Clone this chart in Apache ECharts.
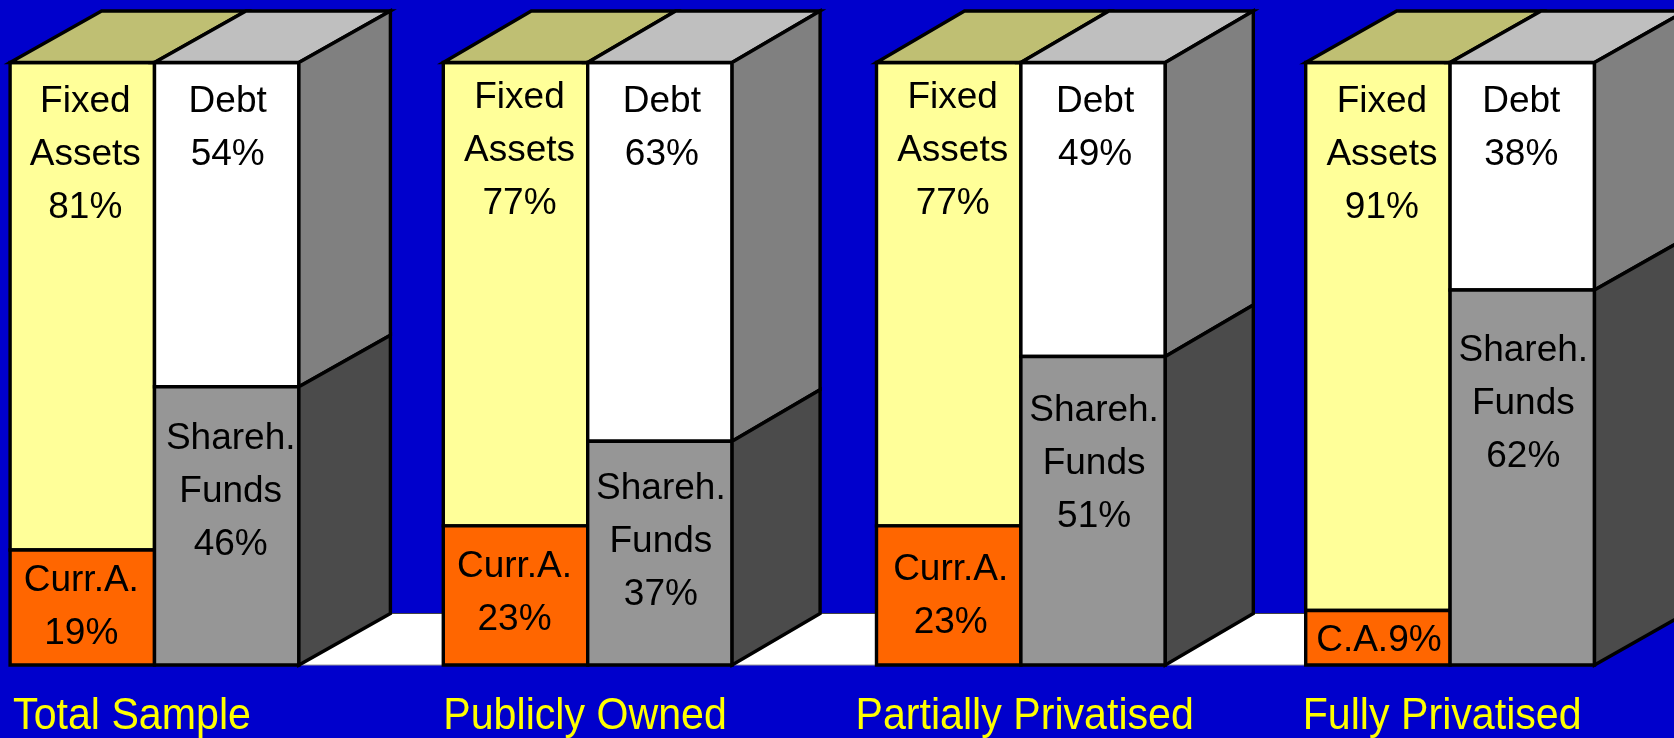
<!DOCTYPE html>
<html>
<head>
<meta charset="utf-8">
<title>Balance sheet structure</title>
<style>
  html, body { margin: 0; padding: 0; background: #0000cc; overflow: hidden; }
  #chart { width: 1674px; height: 738px; }
</style>
<script src="https://cdn.jsdelivr.net/npm/echarts@6/dist/echarts.min.js"></script>
</head>
<body>
<div id="chart"></div>
<script>
// 数据
var categories = ['Total Sample', 'Publicly Owned', 'Partially Privatised', 'Fully Privatised'];
var currAssets = [19, 23, 23, 9];
var fixedAssets = [81, 77, 77, 91];
var funds = [46, 37, 51, 62];
var debt = [54, 63, 49, 38];
var currNames = ['Curr.A.\n', 'Curr.A.\n', 'Curr.A.\n', 'C.A.'];

// layout, px
var colW = 144.4, depthY = 51.5;
var depthX = [91.5, 88, 88, 91];
var barNudge = [0, 0, 0, -4];
var axisTop = 99.6;
var captionX = [3, 0, -21, -3];
// label centre: [dx from column centre, dy from top of segment]
var currPos = [[-1, 57.5], [-1, 67.5], [2, 70.5], [1, 30]];
var fixedPos = [[3, 92.5], [4, 88.5], [4, 88.5], [4, 92.5]];
var fundsPos = [[4, 105], [1, 101], [1, 107], [1, 114]];
var debtPos = [[1, 66], [2, 66], [2, 66], [-1, 66]];

var FONT = '"Liberation Sans", Arial, sans-serif';
var INK = { stroke: '#000', lineWidth: 3.4, lineJoin: 'miter' };

function face(points, fill) {
  return { type: 'polygon', shape: { points: points }, style: Object.assign({ fill: fill }, INK) };
}

// one stacked segment. side: -1 = left column, 1 = right column
function segment(opt) {
  return function (params, api) {
    var i = api.value(0);
    var base = api.value(1), end = api.value(2);
    var mid = api.coord([i, 0])[0] + barNudge[i];
    var dx = depthX[i];
    var xa = opt.side < 0 ? mid - colW : mid;
    var xb = xa + colW;
    var yb = api.coord([i, base])[1];
    var yt = api.coord([i, Math.min(end, axisTop)])[1];
    var kids = [face([[xa, yt], [xb, yt], [xb, yb], [xa, yb]], opt.color)];
    if (opt.top) {
      kids.push(face([[xa, yt], [xa + dx, yt - depthY], [xb + dx, yt - depthY], [xb, yt]], opt.top));
    }
    if (opt.sideColor) {
      kids.push(face([[xb, yt], [xb + dx, yt - depthY], [xb + dx, yb - depthY], [xb, yb]], opt.sideColor));
    }
    kids.push({
      type: 'text',
      style: {
        text: opt.label(i),
        x: (xa + xb) / 2 + opt.pos[i][0],
        y: yt + opt.pos[i][1],
        fill: '#000',
        fontSize: 37,
        fontFamily: FONT,
        align: 'center',
        verticalAlign: 'middle',
        lineHeight: 53
      }
    });
    return { type: 'group', children: kids };
  };
}

function stackData(baseArr, vals) {
  return vals.map(function (v, i) { return [i, baseArr ? baseArr[i] : 0, (baseArr ? baseArr[i] : 0) + v]; });
}

function customSeries(data, render, z) {
  return { type: 'custom', data: data, renderItem: render, z: z, silent: true, clip: false,
           encode: { x: 0, y: 2 } };
}

var myChart = echarts.init(document.getElementById('chart'));
var option = {
  animation: false,
  backgroundColor: '#0000cc',
  grid: { left: 154.5, top: 62.5, width: 1299.6, height: 602.5 },
  xAxis: { type: 'category', data: categories, show: false, boundaryGap: false },
  yAxis: { type: 'value', min: 0, max: axisTop, show: false },
  series: [
    // white floor between the blocks
    customSeries([[0, 0, 0], [1, 0, 0], [2, 0, 0]], function (params, api) {
      var i = api.value(0);
      var x0 = api.coord([i, 0])[0] + barNudge[i] + colW;
      var x1 = api.coord([i + 1, 0])[0] + barNudge[i + 1] - colW;
      var y0 = api.coord([i, 0])[1];
      var y1 = y0 - depthY;
      return { type: 'group', children: [
        { type: 'polygon', shape: { points: [[x0, y0], [x0 + depthX[i], y1], [x1, y1], [x1, y0]] }, style: { fill: '#fff' } },
        { type: 'line', shape: { x1: x0 + depthX[i], y1: y1, x2: x1, y2: y1 }, style: { stroke: '#444', lineWidth: 1 } },
        { type: 'line', shape: { x1: x0, y1: y0, x2: x1, y2: y0 }, style: { stroke: '#999', lineWidth: 1 } }
      ] };
    }, 1),
    customSeries(stackData(currAssets, fixedAssets), segment({
      side: -1, color: '#ffff99', top: '#bfbf73', pos: fixedPos,
      label: function (i) { return 'Fixed\nAssets\n' + fixedAssets[i] + '%'; }
    }), 2),
    customSeries(stackData(null, currAssets), segment({
      side: -1, color: '#ff6600', pos: currPos,
      label: function (i) { return currNames[i] + currAssets[i] + '%'; }
    }), 3),
    customSeries(stackData(funds, debt), segment({
      side: 1, color: '#ffffff', top: '#bfbfbf', sideColor: '#808080', pos: debtPos,
      label: function (i) { return 'Debt\n' + debt[i] + '%'; }
    }), 4),
    customSeries(stackData(null, funds), segment({
      side: 1, color: '#969696', sideColor: '#4b4b4b', pos: fundsPos,
      label: function (i) { return 'Shareh.\nFunds\n' + funds[i] + '%'; }
    }), 5),
    // captions under the blocks
    customSeries(categories.map(function (c, i) { return [i, 0, 0]; }), function (params, api) {
      var i = api.value(0);
      var mid = api.coord([i, 0])[0] + barNudge[i];
      return {
        type: 'text',
        x: mid - colW + captionX[i],
        y: api.coord([i, 0])[1] + 52,
        scaleX: 0.935,
        style: {
          text: categories[i],
          x: 0,
          y: 0,
          fill: '#ffff00',
          fontSize: 44,
          fontFamily: FONT,
          align: 'left',
          verticalAlign: 'middle'
        }
      };
    }, 6)
  ]
};
myChart.setOption(option);
</script>
</body>
</html>
